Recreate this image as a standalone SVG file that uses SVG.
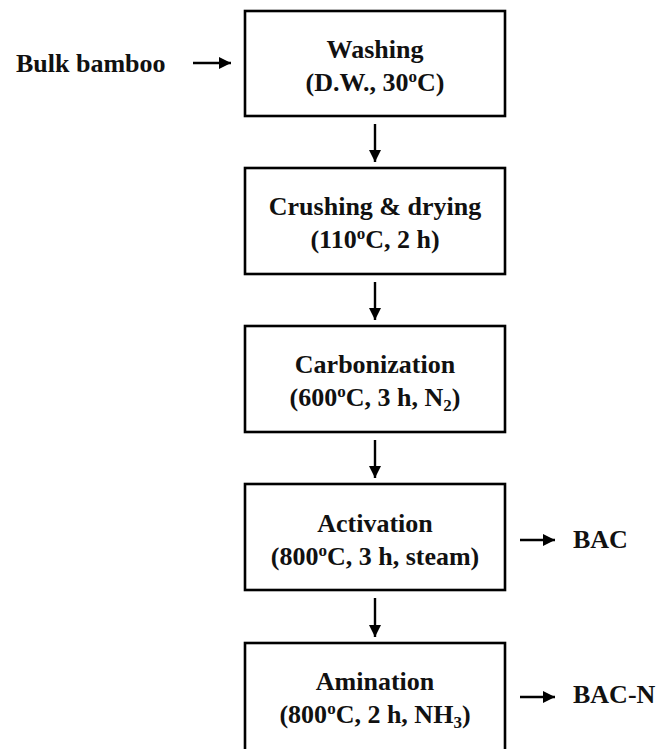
<svg xmlns="http://www.w3.org/2000/svg" width="659" height="749" viewBox="0 0 659 749">
<defs>
<marker id="ah" viewBox="0 0 12 12" refX="12" refY="6" markerWidth="12" markerHeight="12" markerUnits="userSpaceOnUse" orient="auto"><path d="M0,0 L12,6 L0,12 Z" fill="#000"/></marker>
<style>
.box{fill:#fff;stroke:#000;stroke-width:2.6}
.t{font-family:"Liberation Serif","Times New Roman",serif;font-weight:bold;font-size:26px;fill:#111;text-anchor:middle}
.l{font-family:"Liberation Serif","Times New Roman",serif;font-weight:bold;font-size:26px;fill:#111}
.c{stroke:#000;stroke-width:2.4;fill:none}
.sup{font-size:17px}
</style>
</defs>
<rect width="659" height="749" fill="#fff"/>
<g id="bulk"><text class="l" x="16" y="72">Bulk bamboo</text></g>
<g id="washing"><rect class="box" x="245" y="11" width="260" height="105"/>
<text class="t" x="375" y="58">Washing</text>
<text class="t" x="375" y="91">(D.W., 30<tspan class="sup" dy="-9">o</tspan><tspan dy="9">C)</tspan></text></g>
<g id="crushing"><rect class="box" x="245" y="168" width="260" height="106"/>
<text class="t" x="375" y="215">Crushing &amp; drying</text>
<text class="t" x="375" y="248">(110<tspan class="sup" dy="-9">o</tspan><tspan dy="9">C, 2 h)</tspan></text></g>
<g id="carbonization"><rect class="box" x="245" y="326" width="260" height="106"/>
<text class="t" x="375" y="373">Carbonization</text>
<text class="t" x="375" y="406">(600<tspan class="sup" dy="-9">o</tspan><tspan dy="9">C, 3 h, N</tspan><tspan class="sup" dy="5">2</tspan><tspan dy="-5">)</tspan></text></g>
<g id="activation"><rect class="box" x="245" y="484" width="260" height="106"/>
<text class="t" x="375" y="532">Activation</text>
<text class="t" x="375" y="565">(800<tspan class="sup" dy="-9">o</tspan><tspan dy="9">C, 3 h, steam)</tspan></text></g>
<g id="amination"><rect class="box" x="245" y="643" width="260" height="120"/>
<text class="t" x="375" y="690">Amination</text>
<text class="t" x="375" y="723">(800<tspan class="sup" dy="-9">o</tspan><tspan dy="9">C, 2 h, NH</tspan><tspan class="sup" dy="5">3</tspan><tspan dy="-5">)</tspan></text></g>
<g id="bac"><text class="l" x="573" y="548">BAC</text></g>
<g id="bacn"><text class="l" x="573" y="703">BAC-N</text></g>
<g id="connectors">
<line class="c" x1="193" y1="63" x2="231" y2="63" marker-end="url(#ah)"/>
<line class="c" x1="375" y1="124" x2="375" y2="162" marker-end="url(#ah)"/>
<line class="c" x1="375" y1="282" x2="375" y2="320" marker-end="url(#ah)"/>
<line class="c" x1="375" y1="440" x2="375" y2="478" marker-end="url(#ah)"/>
<line class="c" x1="375" y1="598" x2="375" y2="637" marker-end="url(#ah)"/>
<line class="c" x1="520" y1="540" x2="555" y2="540" marker-end="url(#ah)"/>
<line class="c" x1="520" y1="697" x2="555" y2="697" marker-end="url(#ah)"/>
</g>
</svg>
